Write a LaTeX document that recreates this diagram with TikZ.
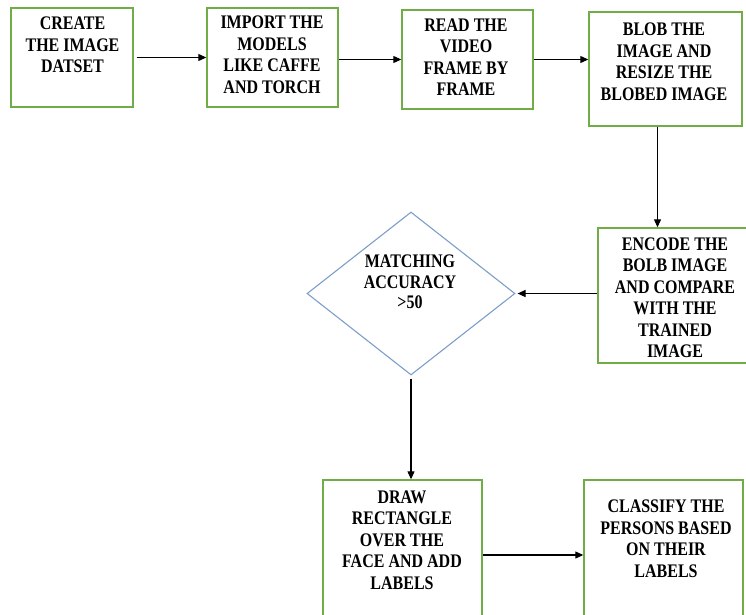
\documentclass[tikz,border=0pt]{standalone}
\usepackage{fontspec}
\setmainfont{Liberation Serif}
\usetikzlibrary{arrows.meta,shapes.geometric,calc}
\definecolor{boxgreen}{RGB}{112,173,71}
\definecolor{diablue}{RGB}{124,158,201}
% centred lines, drawn a little taller than the font's own shape
\newcommand\tallstack[1]{\scalebox{1}[1.2]{\begin{tabular}{@{}c@{}}#1\end{tabular}}}
\begin{document}
\begin{tikzpicture}[x=1pt,y=-1pt,
  stepbox/.style={draw=boxgreen,line width=1.4pt,rectangle,inner sep=0pt},
  decision/.style={draw=diablue,line width=1.1pt,diamond,inner sep=0pt,
    minimum width=208pt,minimum height=163pt},
  boxtext/.style={inner sep=0pt,
    font=\fontsize{16}{17.9}\selectfont\bfseries},
  flow/.style={draw=black,line width=1.1pt,-{Triangle[length=8pt,width=7pt]}}
]
\useasboundingbox (0,0) rectangle (746,614);
\clip (0,0) rectangle (746,614);

% process boxes
\node[stepbox,minimum width=122pt,minimum height=99pt]  (b1) at (72,57.5)    {};
\node[stepbox,minimum width=131pt,minimum height=99pt]  (b2) at (272.5,57.5)  {};
\node[stepbox,minimum width=131pt,minimum height=99pt]  (b3) at (467.5,59.5)  {};
\node[stepbox,minimum width=153pt,minimum height=114pt] (b4) at (665.5,69)    {};
\node[stepbox,minimum width=154pt,minimum height=135pt] (b5) at (675,295.5)   {};
\node[decision] (d) at (411,293.5) {};
\node[stepbox,minimum width=159pt,minimum height=150pt] (b6) at (402.5,555)   {};
\node[stepbox,minimum width=159pt,minimum height=150pt] (b7) at (663.5,555)   {};

% box captions
\node[boxtext] (t1) at (72.5,47)  {\tallstack{CREATE\\THE IMAGE\\DATSET}};
\node[boxtext] (t2) at (272,56.5) {\tallstack{IMPORT THE\\MODELS\\LIKE CAFFE\\AND TORCH}};
\node[boxtext] (t3) at (466,59)   {\tallstack{READ THE\\VIDEO\\FRAME BY\\FRAME}};
\node[boxtext] (t4) at (664,63.5) {\tallstack{BLOB THE\\IMAGE AND\\RESIZE THE\\BLOBED IMAGE}};
\begin{scope}
  \clip (590,230) rectangle (746,357);
  \node[boxtext] (t5) at (675,299.5) {\tallstack{ENCODE THE\\BOLB IMAGE\\AND COMPARE\\WITH THE\\TRAINED\\IMAGE}};
\end{scope}
\node[boxtext,font=\fontsize{16}{16.7}\selectfont\bfseries] (td) at (410,284) {\tallstack{MATCHING\\ACCURACY\\>50}};
\node[boxtext] (t6) at (402,542)   {\tallstack{DRAW\\RECTANGLE\\OVER THE\\FACE AND ADD\\LABELS}};
\node[boxtext] (t7) at (666,540.5) {\tallstack{CLASSIFY THE\\PERSONS BASED\\ON THEIR\\LABELS}};

% connectors
\draw[flow] ($(b1.east)+(3,0)$) -- (b2.west);
\draw[flow] (b2.east |- b3.west) -- (b3.west);
\draw[flow] (b3.east) -- (b3.east -| b4.west);
\coordinate (c4) at ($(b4.south)+(-8,0)$);
\draw[flow] (c4) -- (c4 |- b5.north);
\draw[flow,shorten >=2pt] (b5.west |- d.east) -- (d.east);
\draw[flow] ($(d.south)+(0,3)$) -- (d.south |- b6.north);
\draw[flow] (b6.east) -- (b7.west);
\end{tikzpicture}
\end{document}
